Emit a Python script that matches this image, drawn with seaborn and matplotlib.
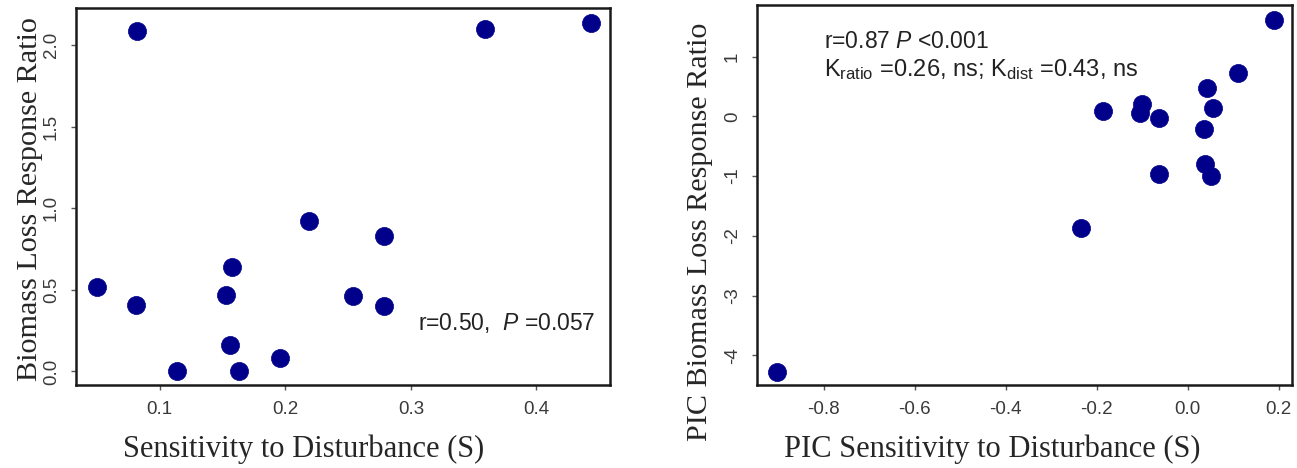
import matplotlib
matplotlib.use("Agg")
import matplotlib.pyplot as plt
import seaborn as sns
import pandas as pd

# Left panel data
sens = [0.082, 0.359, 0.443, 0.050, 0.081, 0.114, 0.153, 0.158, 0.156, 0.163,
        0.196, 0.219, 0.254, 0.279, 0.279]
ratio = [2.09, 2.10, 2.14, 0.52, 0.41, 0.00, 0.47, 0.64, 0.16, 0.00,
         0.08, 0.92, 0.46, 0.83, 0.40]

# Right panel data (PIC)
pic_sens = [0.190, 0.111, 0.043, 0.056, -0.187, -0.100, -0.105, -0.062, 0.035,
            0.038, 0.052, -0.062, -0.235, -0.902]
pic_ratio = [1.62, 0.73, 0.48, 0.14, 0.09, 0.21, 0.06, -0.02, -0.21,
             -0.79, -1.00, -0.96, -1.87, -4.28]

left_xticks = [0.1, 0.2, 0.3, 0.4]
left_yticks = [0.0, 0.5, 1.0, 1.5, 2.0]
right_xticks = [-0.8, -0.6, -0.4, -0.2, 0.0, 0.2]
right_yticks = [-4, -3, -2, -1, 0, 1]

sns.set_style("ticks")
plt.rcParams["axes.unicode_minus"] = False
plt.rcParams["font.family"] = ["Liberation Sans", "DejaVu Sans"]
plt.rcParams["mathtext.fontset"] = "custom"
plt.rcParams["mathtext.rm"] = "Liberation Sans"
plt.rcParams["mathtext.it"] = "Liberation Sans:italic"

W, H = 1297, 468
fig = plt.figure(figsize=(W / 100, H / 100), dpi=100)
ax1 = fig.add_axes([76 / W, 1 - 385 / H, 534 / W, 377 / H])
ax2 = fig.add_axes([757 / W, 1 - 385 / H, 535 / W, 380 / H])

navy = "#00008B"
df1 = pd.DataFrame({"x": sens, "y": ratio})
df2 = pd.DataFrame({"x": pic_sens, "y": pic_ratio})
sns.scatterplot(data=df1, x="x", y="y", ax=ax1, s=170, color=navy, edgecolor=navy, linewidth=0.5)
sns.scatterplot(data=df2, x="x", y="y", ax=ax2, s=170, color=navy, edgecolor=navy, linewidth=0.5)

ax1.set_xlim(0.0335, 0.4585)
ax1.set_ylim(-0.083, 2.229)
ax2.set_xlim(-0.947, 0.2296)
ax2.set_ylim(-4.498, 1.864)

tick_kw = dict(fontsize=13.5, color="#3a3a3a")
ax1.set_xticks(left_xticks)
ax1.set_xticklabels([f"{v:.1f}" for v in left_xticks], **tick_kw)
ax1.set_yticks(left_yticks)
ax1.set_yticklabels([f"{v:.1f}" for v in left_yticks], rotation=90, va="center", **tick_kw)
ax2.set_xticks(right_xticks)
ax2.set_xticklabels([f"{v:.1f}" for v in right_xticks], **tick_kw)
ax2.set_yticks(right_yticks)
ax2.set_yticklabels([f"{v:d}" for v in right_yticks], rotation=90, va="center", **tick_kw)

serif = ["Liberation Serif", "DejaVu Serif"]
ax1.set_xlabel("Sensitivity to Disturbance (S)", family=serif, fontsize=22)
ax1.set_ylabel("Biomass Loss Response Ratio", family=serif, fontsize=21.7)
ax2.set_xlabel("PIC Sensitivity to Disturbance (S)", family=serif, fontsize=22)
ax2.set_ylabel("PIC Biomass Loss Response Ratio", family=serif, fontsize=21.7)

ax1.xaxis.set_label_coords((304 - 76) / 534, -(435 - 385) / 377)
ax2.xaxis.set_label_coords((992 - 757) / 535, -(435 - 385) / 380)
ax1.yaxis.set_label_coords(-(76 - 43) / 534, (385 - 199) / 377)
ax2.yaxis.set_label_coords(-(757 - 713) / 535, (385 - 232) / 380)
ax1.xaxis.label.set_va("top")
ax2.xaxis.label.set_va("top")

for ax in (ax1, ax2):
    for sp in ax.spines.values():
        sp.set_visible(True)
        sp.set_linewidth(1.8)
        sp.set_color("#1a1a1a")
    ax.tick_params(axis="both", direction="out", length=3.5, width=1, color="#555555", pad=8)

ax1.text(0.447, 0.30, r"r=0.50,  $\mathit{P}$ =0.057", ha="right", va="center",
         fontsize=16.5, color="#222222")
ax2.text(-0.80, 1.25, r"r=0.87 $\mathit{P}$ <0.001", ha="left", va="center",
         fontsize=16.5, color="#222222")
ax2.text(-0.80, 0.78, r"K$_{\mathrm{ratio}}$ =0.26, ns; K$_{\mathrm{dist}}$ =0.43, ns",
         ha="left", va="center", fontsize=17, color="#222222")

fig.savefig("out.png", dpi=100)
